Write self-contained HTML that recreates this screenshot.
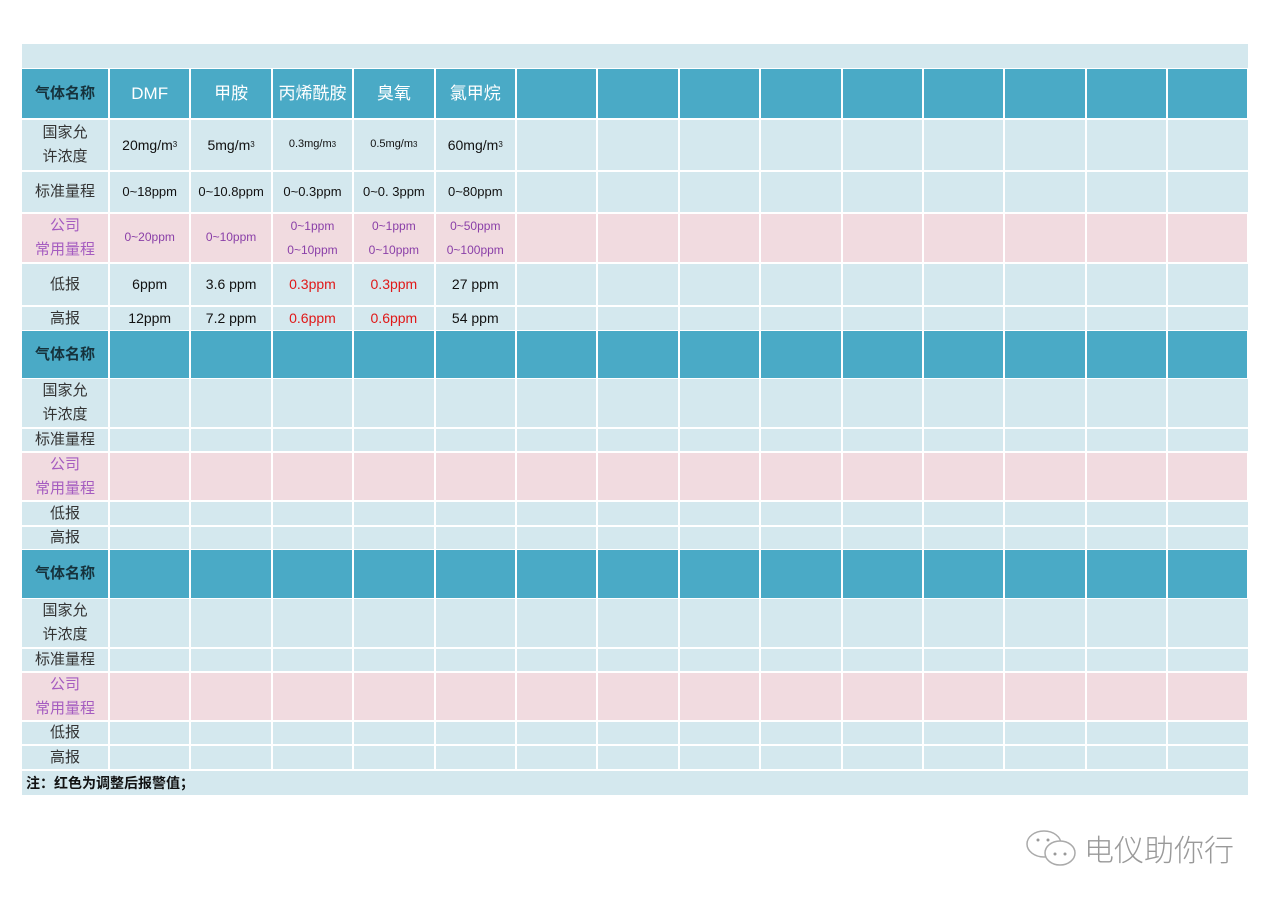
<!DOCTYPE html>
<html><head><meta charset="utf-8"><style>
body{margin:0;width:1280px;height:904px;background:#fff;position:relative;overflow:hidden;font-family:"Liberation Sans","Noto Sans CJK SC",sans-serif;}
.r{position:absolute;left:22px;width:1226px;display:flex;}
.r div{box-sizing:border-box;border-left:2px solid #fff;display:flex;align-items:center;justify-content:center;text-align:center;font-size:13px;color:#111;line-height:1.6;}
.r div:first-child{border-left:none;width:86px;font-size:15px;color:#333;}
.c{width:81.4px;}
.b{background:#d4e8ee;}.b div{background:#d4e8ee;}
.h div{background:#4aaac6;color:#fff;font-size:17px;}
.h div:first-child{color:#16323c;font-weight:bold;font-size:15px;}
.p div{background:#f1dbe0;color:#8a3fa8;font-size:12px;}
.p div:first-child{color:#a55cc0;font-size:15px;}
.red{color:#e01818!important;font-size:14px!important}
sup{font-size:8px}
</style></head><body>
<div class="r b" style="top:44px;height:24px"></div>
<!-- section 1 -->
<div class="r h" style="top:69px;height:49px"><div>气体名称</div><div class="c">DMF</div><div class="c">甲胺</div><div class="c">丙烯酰胺</div><div class="c">臭氧</div><div class="c">氯甲烷</div><div class="c"></div><div class="c"></div><div class="c"></div><div class="c"></div><div class="c"></div><div class="c"></div><div class="c"></div><div class="c"></div><div class="c"></div></div>
<div class="r b" style="top:120px;height:50px"><div>国家允<br>许浓度</div><div class="c" style="font-size:14px">20mg/m<sup>3</sup></div><div class="c" style="font-size:14px">5mg/m<sup>3</sup></div><div class="c" style="font-size:11px">0.3mg/m<sup>3</sup></div><div class="c" style="font-size:11px">0.5mg/m<sup>3</sup></div><div class="c" style="font-size:14px">60mg/m<sup>3</sup></div><div class="c"></div><div class="c"></div><div class="c"></div><div class="c"></div><div class="c"></div><div class="c"></div><div class="c"></div><div class="c"></div><div class="c"></div></div>
<div class="r b" style="top:172px;height:40px"><div>标准量程</div><div class="c">0~18ppm</div><div class="c">0~10.8ppm</div><div class="c">0~0.3ppm</div><div class="c">0~0. 3ppm</div><div class="c">0~80ppm</div><div class="c"></div><div class="c"></div><div class="c"></div><div class="c"></div><div class="c"></div><div class="c"></div><div class="c"></div><div class="c"></div><div class="c"></div></div>
<div class="r p" style="top:214px;height:48px"><div>公司<br>常用量程</div><div class="c">0~20ppm</div><div class="c">0~10ppm</div><div class="c" style="line-height:2">0~1ppm<br>0~10ppm</div><div class="c" style="line-height:2">0~1ppm<br>0~10ppm</div><div class="c" style="line-height:2">0~50ppm<br>0~100ppm</div><div class="c"></div><div class="c"></div><div class="c"></div><div class="c"></div><div class="c"></div><div class="c"></div><div class="c"></div><div class="c"></div><div class="c"></div></div>
<div class="r b" style="top:264px;height:41px"><div>低报</div><div class="c" style="font-size:14px">6ppm</div><div class="c" style="font-size:14px">3.6 ppm</div><div class="c red">0.3ppm</div><div class="c red">0.3ppm</div><div class="c" style="font-size:14px">27 ppm</div><div class="c"></div><div class="c"></div><div class="c"></div><div class="c"></div><div class="c"></div><div class="c"></div><div class="c"></div><div class="c"></div><div class="c"></div></div>
<div class="r b" style="top:307px;height:23px"><div>高报</div><div class="c" style="font-size:14px">12ppm</div><div class="c" style="font-size:14px">7.2 ppm</div><div class="c red">0.6ppm</div><div class="c red">0.6ppm</div><div class="c" style="font-size:14px">54 ppm</div><div class="c"></div><div class="c"></div><div class="c"></div><div class="c"></div><div class="c"></div><div class="c"></div><div class="c"></div><div class="c"></div><div class="c"></div></div>
<!-- section 2 -->
<div class="r h" style="top:331px;height:47px"><div>气体名称</div><div class="c"></div><div class="c"></div><div class="c"></div><div class="c"></div><div class="c"></div><div class="c"></div><div class="c"></div><div class="c"></div><div class="c"></div><div class="c"></div><div class="c"></div><div class="c"></div><div class="c"></div><div class="c"></div></div>
<div class="r b" style="top:379px;height:48px"><div>国家允<br>许浓度</div><div class="c"></div><div class="c"></div><div class="c"></div><div class="c"></div><div class="c"></div><div class="c"></div><div class="c"></div><div class="c"></div><div class="c"></div><div class="c"></div><div class="c"></div><div class="c"></div><div class="c"></div><div class="c"></div></div>
<div class="r b" style="top:429px;height:22px"><div>标准量程</div><div class="c"></div><div class="c"></div><div class="c"></div><div class="c"></div><div class="c"></div><div class="c"></div><div class="c"></div><div class="c"></div><div class="c"></div><div class="c"></div><div class="c"></div><div class="c"></div><div class="c"></div><div class="c"></div></div>
<div class="r p" style="top:453px;height:47px"><div>公司<br>常用量程</div><div class="c"></div><div class="c"></div><div class="c"></div><div class="c"></div><div class="c"></div><div class="c"></div><div class="c"></div><div class="c"></div><div class="c"></div><div class="c"></div><div class="c"></div><div class="c"></div><div class="c"></div><div class="c"></div></div>
<div class="r b" style="top:502px;height:23px"><div>低报</div><div class="c"></div><div class="c"></div><div class="c"></div><div class="c"></div><div class="c"></div><div class="c"></div><div class="c"></div><div class="c"></div><div class="c"></div><div class="c"></div><div class="c"></div><div class="c"></div><div class="c"></div><div class="c"></div></div>
<div class="r b" style="top:527px;height:22px"><div>高报</div><div class="c"></div><div class="c"></div><div class="c"></div><div class="c"></div><div class="c"></div><div class="c"></div><div class="c"></div><div class="c"></div><div class="c"></div><div class="c"></div><div class="c"></div><div class="c"></div><div class="c"></div><div class="c"></div></div>
<!-- section 3 -->
<div class="r h" style="top:550px;height:48px"><div>气体名称</div><div class="c"></div><div class="c"></div><div class="c"></div><div class="c"></div><div class="c"></div><div class="c"></div><div class="c"></div><div class="c"></div><div class="c"></div><div class="c"></div><div class="c"></div><div class="c"></div><div class="c"></div><div class="c"></div></div>
<div class="r b" style="top:599px;height:48px"><div>国家允<br>许浓度</div><div class="c"></div><div class="c"></div><div class="c"></div><div class="c"></div><div class="c"></div><div class="c"></div><div class="c"></div><div class="c"></div><div class="c"></div><div class="c"></div><div class="c"></div><div class="c"></div><div class="c"></div><div class="c"></div></div>
<div class="r b" style="top:649px;height:22px"><div>标准量程</div><div class="c"></div><div class="c"></div><div class="c"></div><div class="c"></div><div class="c"></div><div class="c"></div><div class="c"></div><div class="c"></div><div class="c"></div><div class="c"></div><div class="c"></div><div class="c"></div><div class="c"></div><div class="c"></div></div>
<div class="r p" style="top:673px;height:47px"><div>公司<br>常用量程</div><div class="c"></div><div class="c"></div><div class="c"></div><div class="c"></div><div class="c"></div><div class="c"></div><div class="c"></div><div class="c"></div><div class="c"></div><div class="c"></div><div class="c"></div><div class="c"></div><div class="c"></div><div class="c"></div></div>
<div class="r b" style="top:722px;height:22px"><div>低报</div><div class="c"></div><div class="c"></div><div class="c"></div><div class="c"></div><div class="c"></div><div class="c"></div><div class="c"></div><div class="c"></div><div class="c"></div><div class="c"></div><div class="c"></div><div class="c"></div><div class="c"></div><div class="c"></div></div>
<div class="r b" style="top:746px;height:23px"><div>高报</div><div class="c"></div><div class="c"></div><div class="c"></div><div class="c"></div><div class="c"></div><div class="c"></div><div class="c"></div><div class="c"></div><div class="c"></div><div class="c"></div><div class="c"></div><div class="c"></div><div class="c"></div><div class="c"></div></div>
<div style="position:absolute;left:22px;top:771px;width:1226px;height:24px;background:#d4e8ee;font-size:14px;font-weight:bold;color:#111;line-height:24px;padding-left:4px;box-sizing:border-box">注：红色为调整后报警值；</div>
<svg style="position:absolute;left:1024px;top:828px" width="58" height="42" viewBox="0 0 58 42"><ellipse cx="20" cy="16" rx="17" ry="13" fill="#fff" stroke="#aaa" stroke-width="1.5"/><ellipse cx="36" cy="25" rx="15" ry="12" fill="#fff" stroke="#aaa" stroke-width="1.5"/><circle cx="31" cy="26" r="1.5" fill="#999"/><circle cx="41" cy="26" r="1.5" fill="#999"/><circle cx="14" cy="12" r="1.5" fill="#999"/><circle cx="24" cy="12" r="1.5" fill="#999"/></svg>
<div style="position:absolute;left:1084px;top:828px;font-size:30px;color:#999;font-family:'Noto Sans CJK SC',sans-serif;font-weight:300;line-height:40px">电仪助你行</div>
</body></html>
